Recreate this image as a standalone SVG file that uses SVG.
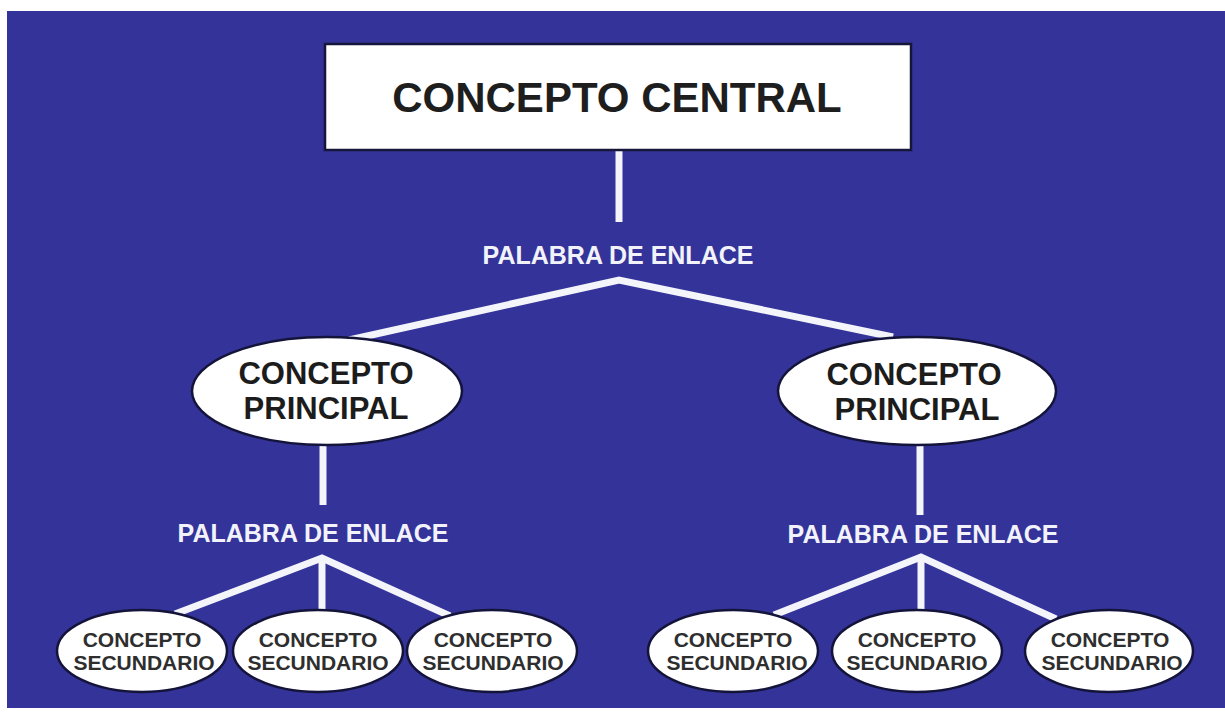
<svg xmlns="http://www.w3.org/2000/svg" width="1225" height="712" viewBox="0 0 1225 712">
<style>
.bg{fill:#333399}
.link{stroke:#f4f4fb;stroke-width:7;stroke-linecap:butt;fill:none}
.box{fill:#ffffff;stroke:#16163a;stroke-width:2.5}
.ell{fill:#ffffff;stroke:#14143a;stroke-width:2.5}
.t{font-family:"Liberation Sans",Arial,sans-serif;font-weight:bold;text-anchor:middle}
.dark{fill:#1e1e1e}
.sec{fill:#2e2e2e;font-size:21px}
.prin{fill:#1c1c1c;font-size:31px}
.lbl{fill:#f2f2fa;font-size:25px}
</style>
<rect x="0" y="0" width="1225" height="712" fill="#ffffff"/>
<rect class="bg" x="7" y="11" width="1218" height="697"/>
<g id="connectors">
<line class="link" x1="619" y1="150" x2="619" y2="222"/>
<polyline class="link" points="349,340 619,280 893,337" stroke-linejoin="miter"/>
<line class="link" x1="323" y1="445" x2="323" y2="505"/>
<line class="link" x1="920" y1="445" x2="920" y2="515"/>
<polyline class="link" points="175,614 322,558 450,616"/>
<line class="link" x1="322" y1="558" x2="322" y2="610"/>
<polyline class="link" points="774,615 921,557 1056,619"/>
<line class="link" x1="921" y1="557" x2="921" y2="610"/>
</g>
<g id="link-top"><text class="t lbl" x="618" y="264">PALABRA DE ENLACE</text></g>
<g id="link-left"><text class="t lbl" x="313" y="542">PALABRA DE ENLACE</text></g>
<g id="link-right"><text class="t lbl" x="923" y="543">PALABRA DE ENLACE</text></g>
<g id="central">
<rect class="box" x="325" y="44" width="586" height="106"/>
<text class="t dark" x="617" y="112" font-size="42">CONCEPTO CENTRAL</text>
</g>
<g id="principal-left">
<ellipse class="ell" cx="327" cy="391" rx="135" ry="54"/>
<text class="t prin" x="326" y="384">CONCEPTO</text>
<text class="t prin" x="326" y="419">PRINCIPAL</text>
</g>
<g id="principal-right">
<ellipse class="ell" cx="917" cy="391" rx="139" ry="54"/>
<text class="t prin" x="914" y="385">CONCEPTO</text>
<text class="t prin" x="917" y="420">PRINCIPAL</text>
</g>
<g id="sec-l1">
<ellipse class="ell" cx="142" cy="651" rx="85" ry="41"/>
<text class="t sec" x="142" y="647">CONCEPTO</text>
<text class="t sec" x="144" y="670">SECUNDARIO</text>
</g>
<g id="sec-l2">
<ellipse class="ell" cx="318" cy="651" rx="85" ry="41"/>
<text class="t sec" x="318" y="647">CONCEPTO</text>
<text class="t sec" x="318" y="670">SECUNDARIO</text>
</g>
<g id="sec-l3">
<ellipse class="ell" cx="492" cy="651" rx="85" ry="41"/>
<text class="t sec" x="493" y="647">CONCEPTO</text>
<text class="t sec" x="493" y="670">SECUNDARIO</text>
</g>
<g id="sec-r1">
<ellipse class="ell" cx="733" cy="651" rx="85" ry="41"/>
<text class="t sec" x="733" y="647">CONCEPTO</text>
<text class="t sec" x="737" y="670">SECUNDARIO</text>
</g>
<g id="sec-r2">
<ellipse class="ell" cx="917" cy="651" rx="85" ry="41"/>
<text class="t sec" x="917" y="647">CONCEPTO</text>
<text class="t sec" x="917" y="670">SECUNDARIO</text>
</g>
<g id="sec-r3">
<ellipse class="ell" cx="1109" cy="651" rx="84" ry="41"/>
<text class="t sec" x="1110" y="647">CONCEPTO</text>
<text class="t sec" x="1112" y="670">SECUNDARIO</text>
</g>
</svg>
